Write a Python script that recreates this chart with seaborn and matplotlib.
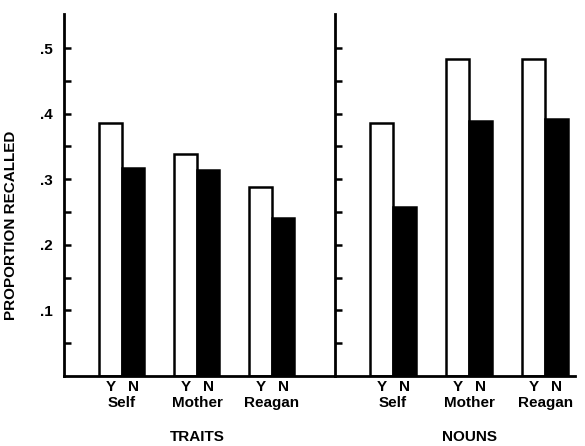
import numpy as np
import pandas as pd
import matplotlib
matplotlib.use('Agg')
import matplotlib.pyplot as plt
import matplotlib.transforms as mtrans
import seaborn as sns

# values
targets = ['Self', 'Mother', 'Reagan']
responses = ['Y', 'N']
traits_y = [0.386, 0.338, 0.288]
traits_n = [0.317, 0.314, 0.241]
nouns_y = [0.386, 0.483, 0.483]
nouns_n = [0.258, 0.389, 0.392]
yticks_major = [0.1, 0.2, 0.3, 0.4, 0.5]
ytick_labels = ['.1', '.2', '.3', '.4', '.5']

def make_df(yv, nv):
    rows = []
    for t, a, b in zip(targets, yv, nv):
        rows.append({'target': t, 'resp': 'Y', 'prop': a})
        rows.append({'target': t, 'resp': 'N', 'prop': b})
    return pd.DataFrame(rows)

traits_df = make_df(traits_y, traits_n)
nouns_df = make_df(nouns_y, nouns_n)

sns.set_style('white')
plt.rcParams['font.family'] = ['Liberation Sans', 'DejaVu Sans']
plt.rcParams['font.weight'] = 'bold'
plt.rcParams['axes.labelweight'] = 'bold'
plt.rcParams['text.color'] = 'black'
plt.rcParams['xtick.color'] = 'black'
plt.rcParams['ytick.color'] = 'black'
plt.rcParams['axes.labelcolor'] = 'black'

fig = plt.figure(figsize=(5.85, 4.46), dpi=100)
ax1 = fig.add_axes([64/585, 1-376/446, 271/585, 362/446])
ax2 = fig.add_axes([335/585, 1-376/446, 240/585, 362/446])

pal = {'Y': 'white', 'N': 'black'}
for ax, df, xlim, name in [(ax1, traits_df, (-0.773, 2.84), 'TRAITS'),
                           (ax2, nouns_df, (-0.763, 2.39), 'NOUNS')]:
    sns.barplot(data=df, x='target', y='prop', hue='resp', hue_order=responses,
                palette=pal, edgecolor='black', linewidth=1.8, width=0.6,
                legend=False, ax=ax)
    ax.set_xlim(*xlim)
    ax.set_ylim(0, 0.552)
    ax.set_xlabel('')
    ax.set_ylabel('')
    for s in ['top', 'right']:
        ax.spines[s].set_visible(False)
    ax.spines['left'].set_linewidth(2)
    ax.spines['bottom'].set_linewidth(2)
    ax.spines['left'].set_color('black')
    ax.spines['bottom'].set_color('black')
    # Y / N under each bar
    pos = []
    labs = []
    for i in range(len(targets)):
        pos += [i - 0.15, i + 0.15]
        labs += responses
    ax.set_xticks(pos)
    ax.set_xticklabels(labs, fontsize=11, fontweight='bold')
    ax.tick_params(axis='x', length=0, pad=3)
    trans = mtrans.blended_transform_factory(ax.transData, ax.transAxes)
    for i, t in enumerate(targets):
        ax.text(i, -0.075, t, transform=trans, ha='center', va='center',
                fontsize=11, fontweight='bold')
    ax.text(1, -0.168, name, transform=trans, ha='center', va='center',
            fontsize=11, fontweight='bold')
    ax.set_yticks(np.arange(0.05, 0.55, 0.05), minor=True)
    ax.tick_params(axis='y', which='both', left=True, direction='in',
                   length=5, width=1.8, color='black')

ax1.set_yticks(yticks_major)
ax1.set_yticklabels(ytick_labels, fontsize=11, fontweight='bold')
ax1.tick_params(axis='y', pad=8)
ax1.set_ylabel('PROPORTION RECALLED', fontsize=11, fontweight='bold')
ax1.yaxis.set_label_coords(-0.17, 0.415)
ax2.set_yticks(yticks_major)
ax2.set_yticklabels([])

fig.savefig('out.png', dpi=100)
